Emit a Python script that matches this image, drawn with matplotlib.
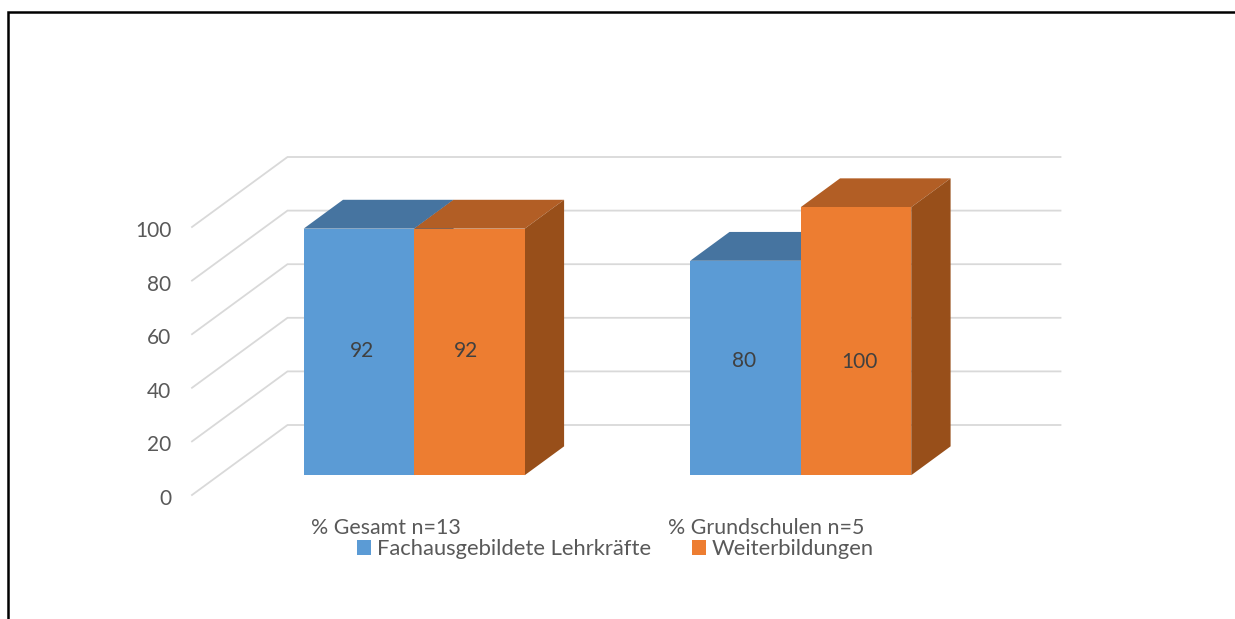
"""3D-Balkendiagramm: Fachausgebildete Lehrkräfte / Weiterbildungen"""

import matplotlib
matplotlib.use("Agg")
import matplotlib.pyplot as plt
from matplotlib.lines import Line2D
from matplotlib.patches import Patch, Polygon
from matplotlib.transforms import ScaledTranslation, offset_copy

categories = ["% Gesamt n=13", "% Grundschulen n=5"]
series_names = ["Fachausgebildete Lehrkräfte", "Weiterbildungen"]
fachausgebildet = [92, 80]
weiterbildungen = [92, 100]
y_ticks = [0, 20, 40, 60, 80, 100]

W, H = 1235, 619
TEXT = "#595959"
GRID = "#d9d9d9"
FRONT = ["#5b9bd5", "#ed7d31"]
TOP = ["#4674a0", "#b25e25"]
SIDE = ["#3f6b96", "#984f1a"]

plt.rcParams["font.family"] = ["Lato", "DejaVu Sans"]

fig = plt.figure(figsize=(W / 100, H / 100), dpi=100, facecolor="white")
ax = fig.add_axes([192 / W, (H - 495) / H, 773 / W, 268 / H])
ax.set_xlim(-0.5, 1.5)
ax.set_ylim(0, 100)
for s in ax.spines.values():
    s.set_visible(False)
ax.patch.set_visible(False)

# Schräge Tiefe: voller Boden in Achseneinheiten
DX = 95.5 / 386.5
DY = 70 / 2.68
Z_FRONT, Z_BACK = 0.283, 0.695
BAR_W = 0.286
BAR_SHIFT = 0.005


def proj(x, v, z):
    return (x + z * DX, v + z * DY)


# Raster: Boden-/Wandlinien
for v in y_ticks:
    ax.plot([-0.5, -0.5 + DX, 1.5 + DX], [v, v + DY, v + DY], color=GRID,
            linewidth=1.3, clip_on=False, zorder=1, solid_joinstyle="miter")


def box(x0, x1, v, i, z):
    """Quader von x0 bis x1 mit Höhe v"""
    corners_top = [proj(x0, v, Z_FRONT), proj(x1, v, Z_FRONT), proj(x1, v, Z_BACK), proj(x0, v, Z_BACK)]
    corners_side = [proj(x1, 0, Z_FRONT), proj(x1, 0, Z_BACK), proj(x1, v, Z_BACK), proj(x1, v, Z_FRONT)]
    corners_front = [proj(x0, 0, Z_FRONT), proj(x1, 0, Z_FRONT), proj(x1, v, Z_FRONT), proj(x0, v, Z_FRONT)]
    for pts, col in [(corners_top, TOP[i]), (corners_side, SIDE[i]), (corners_front, FRONT[i])]:
        ax.add_patch(Polygon(pts, closed=True, facecolor=col, edgecolor="none", clip_on=False, zorder=z))


# Beschriftungs-Versatz in Pixeln (dx, dy nach oben)
label_shift = [[(3, 1), (-3, 1)], [(-1, 7), (3, -21)]]

for c in range(len(categories)):
    for i, vals in enumerate([fachausgebildet, weiterbildungen]):
        x0 = c - BAR_W + i * BAR_W + BAR_SHIFT
        x1 = x0 + BAR_W
        box(x0, x1, vals[c], i, 3 + i)
        cx, cy = proj((x0 + x1) / 2, vals[c] / 2, Z_FRONT)
        tr = offset_copy(ax.transData, fig=fig, x=label_shift[c][i][0], y=label_shift[c][i][1], units="dots")
        ax.text(cx, cy, str(vals[c]), transform=tr, ha="center", va="center",
                fontsize=15, color="#404040", zorder=6)

ax.set_yticks(y_ticks)
ax.set_yticklabels([str(v) for v in y_ticks])
ax.tick_params(axis="y", length=0, pad=15, labelsize=15, labelcolor=TEXT)
ax.set_xticks([])
for lbl in ax.get_yticklabels():
    lbl.set_transform(lbl.get_transform() + ScaledTranslation(0, -2 / 100, fig.dpi_scale_trans))

# Kategorien unter den Balken
cat_shift = [1, -6]
for c, name in enumerate(categories):
    tr = offset_copy(ax.transData, fig=fig, x=cat_shift[c], y=-33, units="dots")
    ax.text(c, 0, name, transform=tr, ha="center", va="center", fontsize=15.4, color=TEXT)

handles = [Patch(facecolor=FRONT[i], edgecolor="none") for i in range(2)]
fig.legend(handles, series_names, loc="center", bbox_to_anchor=(615.5 / W, (H - 549) / H),
           ncol=2, frameon=False, fontsize=15.8, labelcolor=TEXT, handlelength=0.64,
           handleheight=0.64, handletextpad=0.23, columnspacing=1.9, borderpad=0, borderaxespad=0)

# Rahmen oben und links
fig.add_artist(Line2D([8 / W, 8 / W, 1], [0, (H - 12) / H, (H - 12) / H], color="black",
                      linewidth=1.8, solid_joinstyle="miter"))

fig.savefig("out.png", dpi=100, facecolor="white")
